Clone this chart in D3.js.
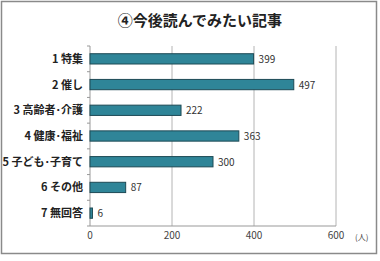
<!doctype html>
<html lang="ja">
<head>
<meta charset="utf-8">
<script src="https://cdn.jsdelivr.net/npm/d3@7"></script>
<style>
  body { margin: 0; background: #fff; }
  svg text { font-family: "Noto Sans CJK JP", "Noto Sans", sans-serif; }
</style>
</head>
<body>
<svg id="chart" width="380" height="261"></svg>
<script>
    var categories = ["1 特集", "2 催し", "3 高齢者･介護", "4 健康･福祉", "5 子ども･子育て", "6 その他", "7 無回答"];
    var values = [399, 497, 222, 363, 300, 87, 6];
    var ticks = [0, 200, 400, 600];

    var svg = d3.select("#chart");

    // frame
    svg.append("rect")
        .attr("x", 1.5).attr("y", 1.5)
        .attr("width", 375).attr("height", 252)
        .attr("fill", "#fff")
        .attr("stroke", "#8a8a8a")
        .attr("stroke-width", 1.5);

    svg.append("text")
        .attr("x", 200).attr("y", 26)
        .attr("text-anchor", "middle")
        .attr("font-size", 15)
        .attr("font-weight", "bold")
        .attr("fill", "#222")
        .text("④今後読んでみたい記事");

    var x = d3.scaleLinear().domain([0, 600]).range([90, 336]);
    var y = d3.scaleBand().domain(categories).range([46, 226]).paddingInner(0.6).paddingOuter(0.3);

    // gridlines
    svg.selectAll(".grid").data(ticks.slice(1)).enter().append("line")
        .attr("x1", function (d) { return x(d); })
        .attr("x2", function (d) { return x(d); })
        .attr("y1", 46).attr("y2", 226)
        .attr("stroke", "#b4b4b4");

    // left axis with band ticks
    var step = 180 / categories.length;
    svg.append("line")
        .attr("x1", 90).attr("x2", 90).attr("y1", 46).attr("y2", 226)
        .attr("stroke", "#999");
    svg.selectAll(".btick").data(d3.range(categories.length + 1)).enter().append("line")
        .attr("x1", 87).attr("x2", 90)
        .attr("y1", function (d) { return 46 + d * step; })
        .attr("y2", function (d) { return 46 + d * step; })
        .attr("stroke", "#999");
    svg.append("line")
        .attr("x1", 90).attr("x2", 336).attr("y1", 226).attr("y2", 226)
        .attr("stroke", "#999");

    // bars
    svg.selectAll(".bar").data(values).enter().append("rect")
        .attr("x", x(0))
        .attr("y", function (d, i) { return y(categories[i]); })
        .attr("width", function (d) { return x(d) - x(0); })
        .attr("height", y.bandwidth())
        .attr("fill", "#2f8598")
        .attr("stroke", "#1d4a55")
        .attr("stroke-width", 1);

    // value labels
    svg.selectAll(".val").data(values).enter().append("text")
        .attr("x", function (d) { return x(d) + 5; })
        .attr("y", function (d, i) { return y(categories[i]) + y.bandwidth() / 2 + 4; })
        .attr("font-size", 10)
        .attr("fill", "#333")
        .text(function (d) { return d; });

    // category labels
    svg.selectAll(".cat").data(categories).enter().append("text")
        .attr("x", 83)
        .attr("y", function (d) { return y(d) + y.bandwidth() / 2 + 4; })
        .attr("text-anchor", "end")
        .attr("font-size", 11)
        .attr("font-weight", "bold")
        .attr("fill", "#222")
        .text(function (d) { return d; });

    // x tick labels
    svg.selectAll(".xt").data(ticks).enter().append("text")
        .attr("x", function (d) { return x(d); })
        .attr("y", 239)
        .attr("text-anchor", "middle")
        .attr("font-size", 10)
        .attr("fill", "#444")
        .text(function (d) { return d; });

    svg.append("text")
        .attr("x", 355).attr("y", 240)
        .attr("font-size", 8)
        .attr("fill", "#444")
        .text("(人)");
</script>
</body>
</html>
